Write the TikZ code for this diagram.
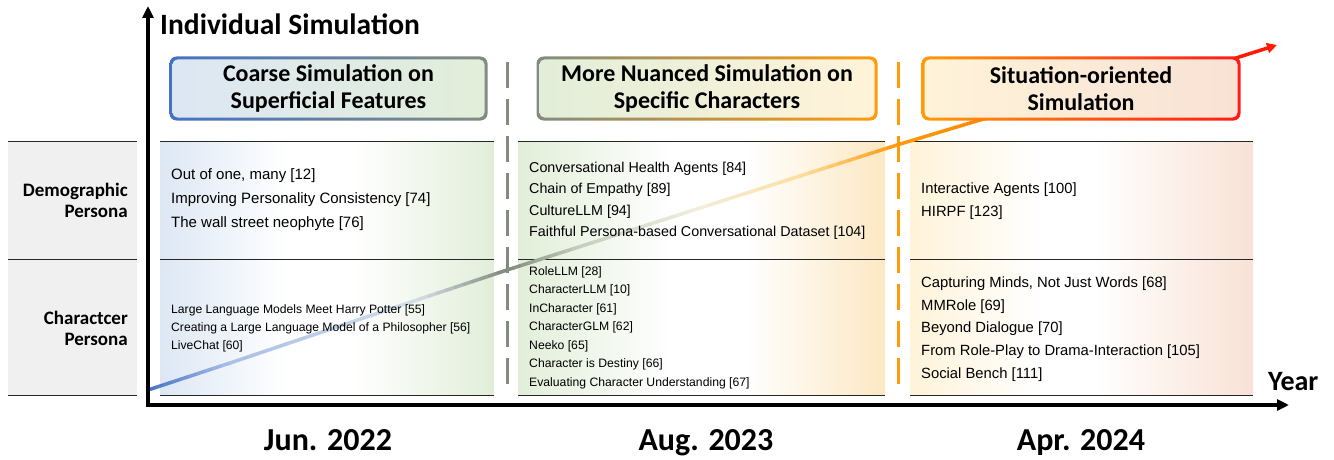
\documentclass[tikz,border=0pt]{standalone}
\usepackage{fontspec}
\setmainfont{Liberation Sans}
\newfontfamily\headfont{Carlito}
\usepackage{tikz}
\usetikzlibrary{calc,arrows.meta}

\definecolor{stripgray}{HTML}{F0F0F0}
\definecolor{paleblue}{HTML}{DDE7F4}
\definecolor{palegreen}{HTML}{E2EED9}
\definecolor{paleorange}{HTML}{FCE8C3}
\definecolor{paleyellow}{HTML}{FFF3D9}
\definecolor{palepeach}{HTML}{F8E2D5}
\definecolor{rimblue}{HTML}{4472C4}
\definecolor{rimgray}{HTML}{828C7E}
\definecolor{rimorange}{HTML}{FF9A0A}
\definecolor{rimred}{HTML}{FF1A1A}
% colours along the trend line
\definecolor{tr0}{HTML}{4472C4}
\definecolor{tr1}{HTML}{A9C0E6}
\definecolor{tr2}{HTML}{D3DDE8}
\definecolor{tr3}{HTML}{7F8A7A}
\definecolor{tr4}{HTML}{C4CEBE}
\definecolor{tr5}{HTML}{F3EEDD}
\definecolor{tr6}{HTML}{FDDFA0}
\definecolor{tr7}{HTML}{FF9A10}
\definecolor{tr8}{HTML}{FF8A00}
\definecolor{tr9}{HTML}{FF5000}
\definecolor{tr10}{HTML}{FF1A00}

% column backgrounds: pale at the sides, white in the middle
% (a node shows the 25bp--75bp part of a shading)
\pgfdeclarehorizontalshading{eraone}{100bp}{color(0bp)=(paleblue); color(25bp)=(paleblue);
    color(44bp)=(white); color(54bp)=(white); color(75bp)=(palegreen); color(100bp)=(palegreen)}
\pgfdeclarehorizontalshading{eratwo}{100bp}{color(0bp)=(palegreen); color(25bp)=(palegreen);
    color(46bp)=(white); color(56bp)=(white); color(75bp)=(paleorange); color(100bp)=(paleorange)}
\pgfdeclarehorizontalshading{erathree}{100bp}{color(0bp)=(paleyellow); color(25bp)=(paleyellow);
    color(44bp)=(white); color(52bp)=(white); color(75bp)=(palepeach); color(100bp)=(palepeach)}

\newcommand*\axiswd{3.5pt}
\tikzset{
    labelstrip/.style = {fill=stripgray, minimum width=129pt, minimum height=254pt,
                        inner sep=0pt, outer sep=0pt},
    column/.style     = {minimum height=254pt, inner sep=0pt, outer sep=0pt},
    rowrule/.style    = {draw=black!85, line width=1pt},
    rowname/.style    = {anchor=east, align=right, inner sep=0pt,
                        font=\headfont\bfseries\fontsize{19}{21}\selectfont},
    bigtext/.style    = {anchor=west, align=left, inner sep=0pt,
                        font=\fontsize{15}{24}\selectfont},
    midtext/.style    = {anchor=west, align=left, inner sep=0pt},
    smalltext/.style  = {anchor=west, align=left, inner sep=0pt,
                        font=\fontsize{12.2}{18.5}\selectfont},
    headrim/.style    = {rounded corners=7pt, minimum height=64pt, inner sep=0pt},
    headbox/.style    = {rounded corners=5pt, minimum height=58pt,
                        inner sep=0pt, align=center,
                        font=\headfont\bfseries\fontsize{24}{27}\selectfont},
    erasep/.style     = {line width=3pt, dash pattern=on 26pt off 11pt},
    trend/.style      = {line width=3.5pt, line cap=round},
    axis/.style       = {line width=\axiswd, -{Triangle[length=12pt,width=11pt]}},
    yearlabel/.style  = {anchor=base, inner sep=0pt,
                        font=\headfont\bfseries\fontsize{32}{36}\selectfont},
}

\begin{document}
\begin{tikzpicture}[x=1pt,y=-1pt]
    \useasboundingbox (0,0) rectangle (1334,460);

    % Row names on the grey strip
    \node[labelstrip] (lab) at (72.5,268) {};
    \node[rowname] (demo) at (128,200) {Demographic\\Persona};
    \node[rowname] (char) at (128,328) {Charactcer\\Persona};

    % The three era columns
    \node[column, minimum width=334pt, shading=eraone]   (c1) at (327,268) {};
    \node[column, minimum width=367pt, shading=eratwo]   (c2) at (701.5,268) {};
    \node[column, minimum width=343pt, shading=erathree] (c3) at (1081.5,268) {};

    % Top, middle and bottom rules
    \foreach \c in {lab,c1,c2,c3} {
        \draw[rowrule] (\c.north west) -- (\c.north east);
        \draw[rowrule] ([yshift=-118pt]\c.north west) -- ([yshift=-118pt]\c.north east);
        \draw[rowrule] (\c.south west) -- (\c.south east);
    }

    % Dashed era separators
    \coordinate (s1top) at (507,62);  \coordinate (s1bot) at (507,392);
    \coordinate (s2top) at (898,62);  \coordinate (s2bot) at (898,392);
    \draw[erasep, draw=rimgray]   (s1top) -- (s1bot);
    \draw[erasep, draw=rimorange] (s2top) -- (s2bot);

    % Trend line, coloured piece by piece
    \foreach \px/\py [count=\i from 0] in {148/390,230/363,420/299,507/270,
                                           580/246.6,700/208,800/176,897/145,
                                           980/120,1110/87,1236/58,1277/45}
        \coordinate (p\i) at (\px,\py);
    \foreach \a/\b in {0/1,1/2,2/3,3/4,4/5,5/6,6/7,7/8,8/9,9/10} {
        \foreach \k in {0,...,9} {
            \pgfmathtruncatemacro\mix{95-\k*10}
            \draw[trend, draw=tr\a!\mix!tr\b]
                ($(p\a)!\k/10!(p\b)$) -- ($(p\a)!\k/10+0.1!(p\b)$);
        }
    }
    \draw[trend, line cap=butt, draw=tr10, -{Triangle[length=10pt,width=10pt]}] (p10) -- (p11);

    % Era headers: a shaded rim with a shaded box on top
    \node[headrim, minimum width=318pt, left color=rimblue, right color=rimgray]
        (h1rim) at (328.5,88.5) {};
    \node[headbox, minimum width=312pt, left color=paleblue, middle color=black!5,
          right color=palegreen] (h1) at (h1rim) {Coarse Simulation on\\Superficial Features};
    \node[headrim, minimum width=341pt, left color=rimgray, right color=rimorange]
        (h2rim) at (707,88.5) {};
    \node[headbox, minimum width=335pt, left color=palegreen, middle color=black!5,
          right color=paleyellow] (h2) at (h2rim) {More Nuanced Simulation on\\Specific Characters};
    \node[headrim, minimum width=319pt, left color=rimorange, right color=rimred]
        (h3rim) at (1081,88.5) {};
    \node[headbox, minimum width=313pt, left color=paleyellow, middle color=white,
          right color=palepeach] (h3) at (h3rim) {Situation-oriented\\Simulation};

    % Papers, era 1
    \node[bigtext] (e1demo) at (171,200) {Out of one, many [12]\\
        Improving Personality Consistency [74]\\The wall street neophyte [76]};
    \node[smalltext, font=\fontsize{12.15}{18}\selectfont] (e1char) at (171,328) {%
        Large Language Models Meet Harry Potter [55]\\
        Creating a Large Language Model of a Philosopher [56]\\LiveChat [60]};

    % Papers, era 2
    \node[midtext, font=\fontsize{14.3}{21.5}\selectfont] (e2demo) at (529,201) {%
        Conversational Health Agents [84]\\Chain of Empathy [89]\\CultureLLM [94]\\
        Faithful Persona-based Conversational Dataset [104]};
    \node[smalltext] (e2char) at (529,327.5) {RoleLLM [28]\\CharacterLLM [10]\\
        InCharacter [61]\\CharacterGLM [62]\\Neeko [65]\\Character is Destiny [66]\\
        Evaluating Character Understanding [67]};

    % Papers, era 3
    \node[midtext, font=\fontsize{14.8}{23}\selectfont] (e3demo) at (921,201.5) {%
        Interactive Agents [100]\\HIRPF [123]};
    \node[midtext, font=\fontsize{14.8}{22.75}\selectfont] (e3char) at (921,329) {%
        Capturing Minds, Not Just Words [68]\\MMRole [69]\\Beyond Dialogue [70]\\
        From Role-Play to Drama-Interaction [105]\\Social Bench [111]};

    % Axes
    \coordinate (origin) at (148,405);
    \coordinate (ytip)   at (148,6);
    \coordinate (xtip)   at (1289,405);
    \draw[axis] (origin) -- (ytip);
    \draw[axis] ([xshift=-0.5*\axiswd]origin) -- (xtip);
    \node[anchor=base west, inner sep=0pt,
          font=\headfont\bfseries\fontsize{29.5}{32}\selectfont] (ylab) at (160,35)
        {Individual Simulation};
    \node[anchor=base west, inner sep=0pt,
          font=\headfont\bfseries\fontsize{28}{32}\selectfont] (xlab) at (1268,390) {Year};

    % Dates under the axis
    \foreach \d/\x [count=\i] in {Jun. 2022/328, Aug. 2023/706, Apr. 2024/1081}
        \node[yearlabel] (date\i) at (\x,450) {\d};
\end{tikzpicture}
\end{document}
